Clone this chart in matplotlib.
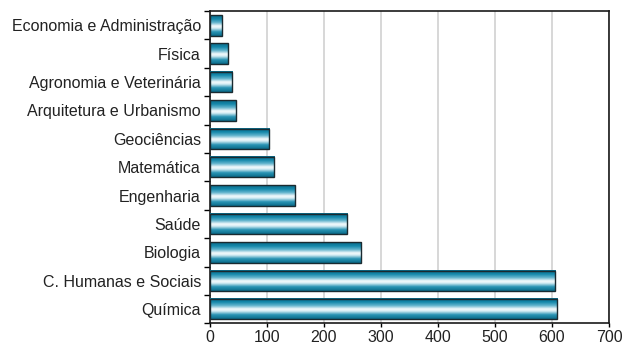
import numpy as np
import matplotlib
matplotlib.use("Agg")
import matplotlib.pyplot as plt
from matplotlib.colors import LinearSegmentedColormap
from matplotlib.patches import Rectangle

# ---------------------------------------------------------------------
# Data (top to bottom)
# ---------------------------------------------------------------------
categories = [
    "Economia e Administração",
    "Física",
    "Agronomia e Veterinária",
    "Arquitetura e Urbanismo",
    "Geociências",
    "Matemática",
    "Engenharia",
    "Saúde",
    "Biologia",
    "C. Humanas e Sociais",
    "Química",
]
values = [21, 31, 39, 45, 104, 113, 149, 241, 265, 606, 609]
x_ticks = [0, 100, 200, 300, 400, 500, 600, 700]

plt.rcParams["font.family"] = ["Liberation Sans", "DejaVu Sans"]

bar_cmap = LinearSegmentedColormap.from_list(
    "tube",
    [(0.0, "#0a6a88"), (0.18, "#1488aa"), (0.35, "#5fb2cc"),
     (0.52, "#f4fafc"), (0.62, "#d9eef5"), (0.8, "#2a95b5"), (1.0, "#0a6a88")],
)

fig = plt.figure(figsize=(6.23, 3.47), dpi=100)
ax = fig.add_axes([0.337, 0.068, 0.6405, 0.9])

y = np.arange(len(categories))
h = 0.72
grad = np.linspace(0, 1, 64).reshape(-1, 1)

for yi, v in zip(y, values):
    ax.imshow(grad, cmap=bar_cmap, aspect="auto", interpolation="bilinear",
              extent=[0, v, yi + h / 2, yi - h / 2], zorder=3)
    ax.add_patch(Rectangle((0, yi - h / 2), v, h, fill=False,
                           edgecolor="#1a2a30", linewidth=1.0, zorder=4))

ax.set_xlim(0, 700)
ax.set_ylim(len(categories) - 0.5, -0.5)

ax.set_xticks(x_ticks)
ax.set_xticklabels([str(t) for t in x_ticks], fontsize=11.5, color="#222222")
ax.set_yticks(y)
ax.set_yticklabels(categories, fontsize=11.5, color="#222222")
ax.tick_params(axis="y", length=0, pad=6.5)
ax.set_yticks(np.arange(len(categories) + 1) - 0.5, minor=True)
ax.tick_params(axis="y", which="minor", length=4, width=1, direction="out")
ax.tick_params(axis="x", length=3, width=1, direction="out", pad=2)

ax.grid(axis="x", color="#d4d4d4", linewidth=1.3, zorder=0)
ax.set_axisbelow(True)
for s in ax.spines.values():
    s.set_color("#1a1a1a")
    s.set_linewidth(1.2)

fig.savefig("out.png", dpi=100)
